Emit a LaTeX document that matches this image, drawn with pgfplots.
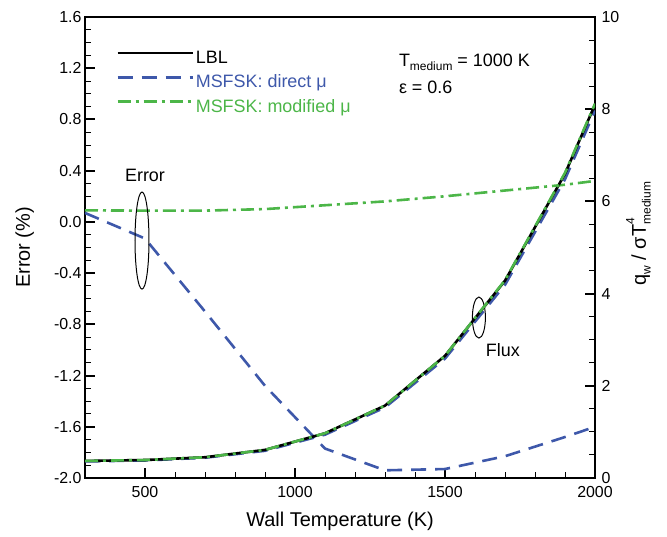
\documentclass[border=0pt]{standalone}
\usepackage{fontspec}
\setmainfont{Liberation Sans}
\setsansfont{Liberation Sans}
\usepackage{pgfplots}
\pgfplotsset{compat=1.18}
\definecolor{msblue}{RGB}{62,88,170}
\definecolor{msgreen}{RGB}{76,182,72}
\newcommand{\lowsub}[1]{\raisebox{-0.45ex}{\fontsize{12}{12}\selectfont #1}}

\pgfplotsset{
  common/.style={
    at={(0,0)}, anchor=south west,
    scale only axis, width=510bp, height=461bp,
    xmin=300, xmax=2000,
    tick align=inside,
    major tick length=10bp, minor tick length=6bp,
    every major tick/.style={black, line width=2bp},
    every minor tick/.style={black, line width=1bp},
    axis line style={line width=2.2bp},
    ticklabel style={font=\fontsize{16}{16}\selectfont},
    /pgf/number format/assume math mode=true,
    /pgf/number format/1000 sep={},
    label style={font=\fontsize{20}{22}\selectfont},
  },
  blue dash/.style={msblue, line width=2.6bp, dash pattern=on 15bp off 9bp},
  green dashdot/.style={msgreen, line width=2.6bp, dash pattern=on 13bp off 5bp on 3bp off 5bp},
  lbl/.style={black, line width=2.6bp},
}

\begin{document}
\begin{tikzpicture}
\useasboundingbox (-85bp,-59bp) rectangle (582bp,478bp);
% error axis (left)
\begin{axis}[common,
  ymin=-2, ymax=1.6,
  xtick={500,1000,1500,2000}, minor x tick num=4,
  ytick={-2,-1.6,-1.2,-0.8,-0.4,0,0.4,0.8,1.2,1.6}, minor y tick num=3,
  xtick pos=bottom, ytick pos=left,
  xticklabel style={yshift=-5bp},
  yticklabel style={/pgf/number format/fixed, /pgf/number format/fixed zerofill, /pgf/number format/precision=1},
  xlabel={Wall Temperature (K)},
  ylabel={Error (\%)},
  x label style={at={(axis description cs:0.5,-0.095)}, anchor=center},
  y label style={at={(axis description cs:-0.118,0.5)}, anchor=center},
  legend style={draw=none, fill=none, at={(axis description cs:0.055,0.935)}, anchor=north west,
    font=\fontsize{18}{20}\selectfont, row sep=6bp},
  legend cell align=left,
  legend image code/.code={\draw[#1] (0bp,5bp) -- (75bp,5bp);},
]
\addlegendimage{lbl}
\addlegendentry{LBL}
\addlegendimage{blue dash}
\addlegendentry{\textcolor{msblue}{MSFSK: direct μ}}
\addlegendimage{green dashdot}
\addlegendentry{\textcolor{msgreen}{MSFSK: modified μ}}

\addplot[blue dash, forget plot] coordinates {
 (300,0.07) (500,-0.13) (700,-0.70) (900,-1.28) (1100,-1.77)
 (1300,-1.94) (1500,-1.93) (1700,-1.83) (1900,-1.68) (2000,-1.60)};
\addplot[green dashdot, forget plot] coordinates {
 (300,0.09) (500,0.088) (700,0.088) (900,0.10) (1100,0.13)
 (1300,0.16) (1500,0.20) (1700,0.245) (1900,0.29) (2000,0.32)};

\draw[line width=1bp] (axis cs:490,-0.146) ellipse [x radius=7bp, y radius=48.5bp];
\node[font=\fontsize{18}{20}\selectfont] at (axis cs:500,0.365) {Error};
\draw[line width=1bp] (axis cs:1613,-0.747) ellipse [x radius=6.5bp, y radius=20.5bp];
\node[font=\fontsize{18}{20}\selectfont] at (axis cs:1693,-1.0) {Flux};
\node[anchor=west, font=\fontsize{18}{20}\selectfont] at (axis cs:1335,1.247) {T\lowsub{medium} = 1000 K};
\node[anchor=west, font=\fontsize{18}{20}\selectfont] at (axis cs:1335,1.052) {ε = 0.6};
\end{axis}
% flux axis (right)
\begin{axis}[common,
  ymin=0, ymax=10,
  axis x line=none, axis y line*=right,
  ytick={0,2,4,6,8,10}, minor y tick num=3,
  yticklabel style={xshift=3bp},
  ylabel={q\lowsub{w} / σT\rlap{\raisebox{1.1ex}{\fontsize{12}{12}\selectfont 4}}\lowsub{medium}},
  y label style={at={(axis description cs:1.085,0.53)}, anchor=center},
]
\addplot[blue dash] coordinates {
 (300,0.36) (500,0.38) (700,0.44) (900,0.59) (1100,0.94)
 (1300,1.53) (1500,2.59) (1700,4.19) (1900,6.48) (2000,7.97)};
\addplot[lbl] coordinates {
 (300,0.37) (500,0.39) (700,0.45) (900,0.61) (1100,0.97)
 (1300,1.57) (1500,2.65) (1700,4.28) (1900,6.60) (2000,8.10)};
\addplot[green dashdot] coordinates {
 (300,0.37) (500,0.39) (700,0.45) (900,0.61) (1100,0.97)
 (1300,1.57) (1500,2.65) (1700,4.29) (1900,6.62) (2000,8.12)};
\end{axis}
\end{tikzpicture}
\end{document}
